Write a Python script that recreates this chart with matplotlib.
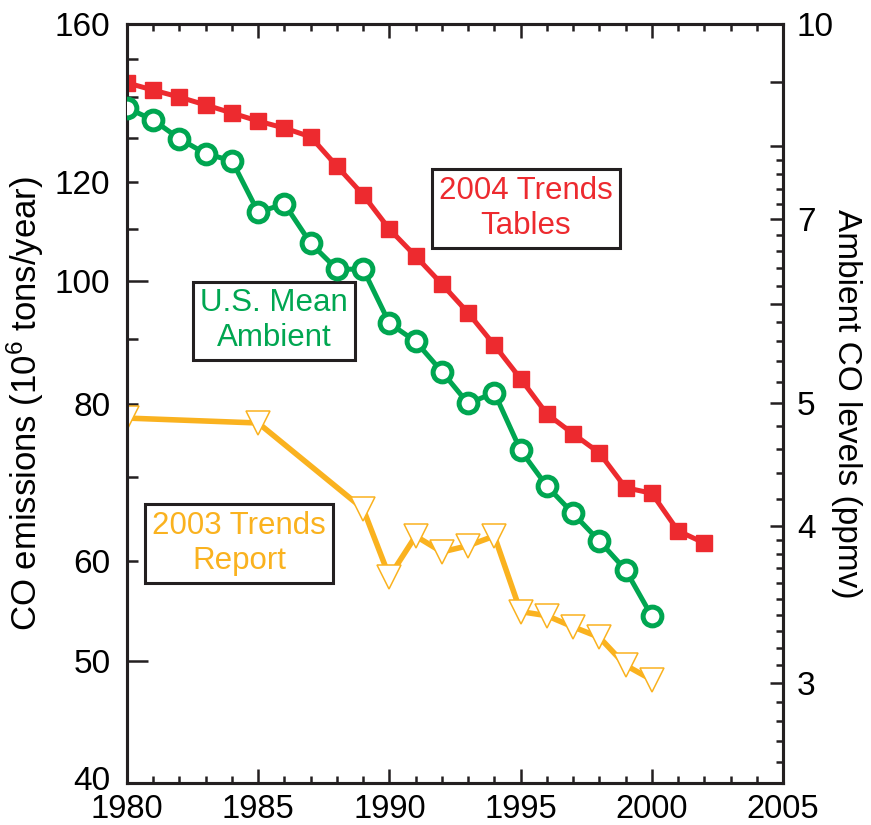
import numpy as np
import matplotlib
matplotlib.use('Agg')
import matplotlib.pyplot as plt
import matplotlib.transforms as mtransforms
from matplotlib.ticker import FixedLocator, FixedFormatter, NullFormatter

plt.rcParams['font.family'] = ['Liberation Sans', 'DejaVu Sans']
plt.rcParams['mathtext.default'] = 'regular'

# 2004 Trends Tables (emissions, 10^6 tons/year)
anios_2004 = [1980, 1981, 1982, 1983, 1984, 1985, 1986, 1987, 1988, 1989, 1990,
              1991, 1992, 1993, 1994, 1995, 1996, 1997, 1998, 1999, 2000, 2001, 2002]
emis_2004 = [143.7, 141.8, 140.0, 138.0, 136.0, 134.0, 132.3, 130.2, 123.4, 117.1, 110.0,
             104.7, 99.5, 94.4, 89.0, 83.7, 78.5, 75.7, 73.1, 68.6, 67.9, 63.4, 62.0]

# U.S. mean ambient CO (ppmv)
anios_amb = [1980, 1981, 1982, 1983, 1984, 1985, 1986, 1987, 1988, 1989, 1990,
             1991, 1992, 1993, 1994, 1995, 1996, 1997, 1998, 1999, 2000]
ambiente = [8.58, 8.39, 8.11, 7.89, 7.79, 7.09, 7.20, 6.70, 6.39, 6.39, 5.79,
            5.60, 5.30, 5.00, 5.10, 4.59, 4.30, 4.09, 3.89, 3.69, 3.39]

# 2003 Trends Report (emissions, 10^6 tons/year)
anios_2003 = [1980, 1985, 1989, 1990, 1991, 1992, 1993, 1994, 1995, 1996, 1997, 1998, 1999, 2000]
emis_2003 = [77.9, 77.2, 66.0, 58.3, 62.8, 61.0, 61.7, 62.8, 54.7, 54.3, 53.2, 52.2, 49.6, 48.3]

izq_ticks = [40, 50, 60, 70, 80, 90, 100, 110, 120, 130, 140, 150, 160]
izq_labels = ['40', '50', '60', '', '80', '', '100', '', '120', '', '', '', '160']
der_ticks = [3, 4, 5, 6, 7, 8, 9, 10]
der_labels = ['3', '4', '5', '', '7', '', '', '10']
der_minor = [2.6, 2.7, 2.8, 2.9, 3.1, 3.2, 3.3, 3.4, 3.5, 3.6, 3.7, 3.8, 3.9,
             4.2, 4.4, 4.6, 4.8, 5.2, 5.4, 5.6, 5.8, 6.2, 6.4, 6.6, 6.8,
             7.2, 7.4, 7.6, 7.8]

rojo = '#ED2A2F'
verde = '#00A651'
naranja = '#FAB21F'
negro = '#231F20'

fig = plt.figure(figsize=(8.71, 8.25), dpi=100)
ax = fig.add_axes([127 / 871, 42 / 825, 656 / 871, 759 / 825])
ax2 = ax.twinx()

ax.plot(anios_2003, emis_2003, '-', color=naranja, lw=4, zorder=2)
ax.plot(anios_2003, emis_2003, 'v', ms=17, mfc='white', mec=naranja, mew=1.1, zorder=3)
ax.plot(anios_2004, emis_2004, '-s', color=rojo, lw=3.6, ms=11.5, mec=rojo, zorder=4)
ax2.plot(anios_amb, ambiente, '-o', color=verde, lw=3.6, ms=13.5, mfc='white',
         mec=verde, mew=3.6, zorder=4)

ax.set_yscale('log')
ax2.set_yscale('log')
ax.set_ylim(40, 160)
ax2.set_ylim(2.5, 10)
ax.set_xlim(1980, 2005)

ax.yaxis.set_major_locator(FixedLocator(izq_ticks))
ax.yaxis.set_major_formatter(FixedFormatter(izq_labels))
ax.yaxis.set_minor_locator(FixedLocator([]))
ax.yaxis.set_minor_formatter(NullFormatter())
ax2.yaxis.set_major_locator(FixedLocator(der_ticks))
ax2.yaxis.set_major_formatter(FixedFormatter(der_labels))
ax2.yaxis.set_minor_locator(FixedLocator(der_minor))
ax2.yaxis.set_minor_formatter(NullFormatter())

ax.set_xticks(range(1980, 2006, 5))
ax.set_xticks(range(1980, 2006), minor=True)

ax.tick_params(axis='x', which='both', direction='in', top=True, labelsize=23.5,
               width=1.8, color=negro, pad=8)
ax.tick_params(axis='x', which='major', length=10)
ax.tick_params(axis='x', which='minor', length=5)
ax.tick_params(axis='y', which='major', direction='in', length=8, width=1.8,
               labelsize=24, color=negro, pad=12)
for t, v in zip(ax.yaxis.get_major_ticks(), izq_ticks):
    if v in (50, 100):
        t.tick1line.set_markersize(15)
    if v == 40:
        # sube un poco el 40 para que no choque con 1980
        t.label1.set_transform(t.label1.get_transform() +
                               mtransforms.ScaledTranslation(0, 5 / 100, fig.dpi_scale_trans))
ax2.tick_params(axis='y', which='major', direction='in', length=9.5, width=1.8,
                labelsize=24, color=negro, pad=10)
ax2.tick_params(axis='y', which='minor', direction='in', length=5, width=1.8, color=negro)

for a in (ax, ax2):
    for s in a.spines.values():
        s.set_linewidth(2.2)
        s.set_color(negro)

ax.set_ylabel('CO emissions (10$^6$ tons/year)', fontsize=25, labelpad=6)
ax2.set_ylabel('Ambient CO levels (ppmv)', fontsize=24, rotation=270, labelpad=20)

caja = dict(boxstyle='square,pad=0.22', fc='white', ec=negro, lw=2.2)
ax.text(0.608, 0.757, '2004 Trends\nTables', transform=ax.transAxes, fontsize=22.5,
        color=rojo, ha='center', va='center', bbox=caja, zorder=6)
ax.text(0.224, 0.609, 'U.S. Mean\nAmbient', transform=ax.transAxes, fontsize=22.5,
        color=verde, ha='center', va='center', bbox=caja, zorder=6)
ax.text(0.171, 0.3155, '2003 Trends\nReport', transform=ax.transAxes, fontsize=22.5,
        color=naranja, ha='center', va='center', bbox=caja, zorder=6)

fig.savefig('out.png', dpi=100)
